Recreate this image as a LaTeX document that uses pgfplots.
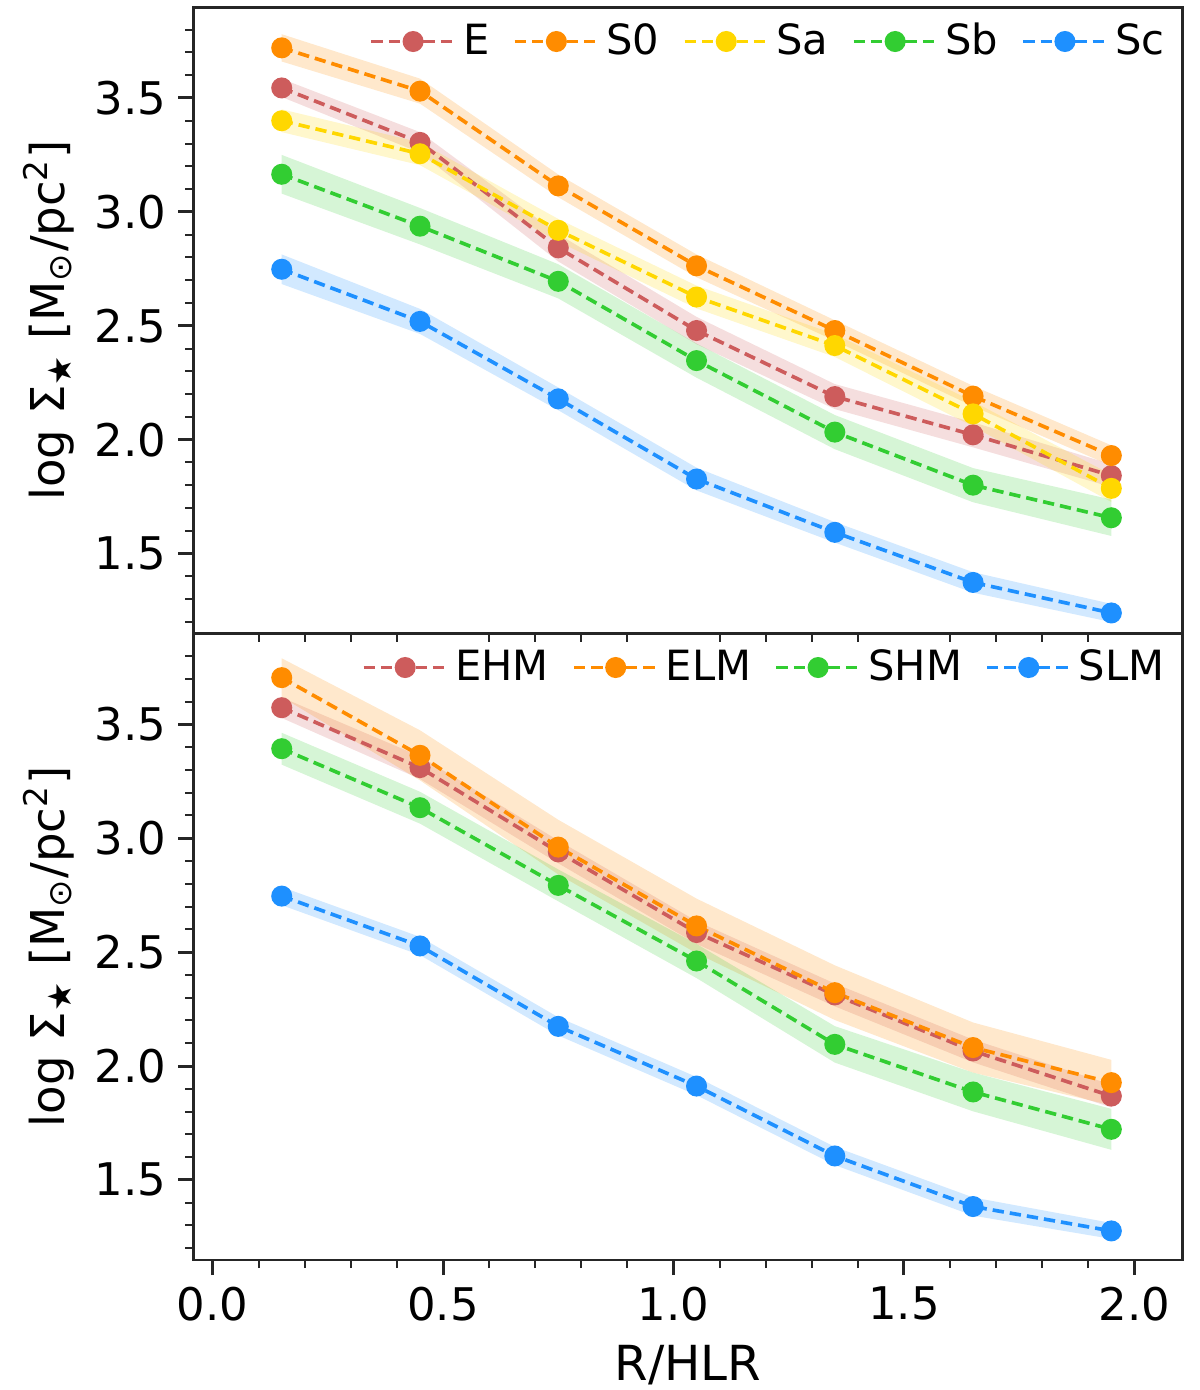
\documentclass[border=0pt]{standalone}
\usepackage{fontspec}
\setmainfont{DejaVu Sans}
\usepackage{pgfplots}
\usepackage{pgfplotstable}
\pgfplotsset{compat=1.18}
\usepgfplotslibrary{fillbetween}
\usetikzlibrary{calc}

\definecolor{indianred}{HTML}{CD5C5C}
\definecolor{darkorange}{HTML}{FF8C00}
\definecolor{gold}{HTML}{FFD700}
\definecolor{limegreen}{HTML}{32CD32}
\definecolor{dodgerblue}{HTML}{1E90FF}

% morphological types: profile and half width of the shaded band
\pgfplotstableread{
x    E     eE    S0    eS0   Sa    eSa   Sb    eSb   Sc    eSc
0.15 3.544 0.040 3.720 0.060 3.400 0.050 3.165 0.085 2.748 0.065
0.45 3.305 0.045 3.530 0.055 3.255 0.050 2.937 0.080 2.519 0.055
0.75 2.842 0.060 3.114 0.050 2.919 0.050 2.695 0.075 2.179 0.050
1.05 2.479 0.060 2.763 0.050 2.626 0.050 2.347 0.075 1.827 0.050
1.35 2.189 0.055 2.479 0.045 2.413 0.050 2.033 0.075 1.593 0.045
1.65 2.021 0.055 2.191 0.045 2.113 0.055 1.800 0.075 1.373 0.045
1.95 1.842 0.050 1.930 0.045 1.786 0.060 1.657 0.080 1.239 0.040
}\morph

% mass groups
\pgfplotstableread{
x    EHM   eEHM  ELM   eELM  SHM   eSHM  SLM   eSLM
0.15 3.573 0.045 3.705 0.085 3.393 0.070 2.746 0.040
0.45 3.310 0.050 3.364 0.110 3.134 0.070 2.527 0.040
0.75 2.940 0.050 2.961 0.120 2.793 0.070 2.174 0.040
1.05 2.586 0.050 2.615 0.120 2.461 0.075 1.912 0.040
1.35 2.312 0.050 2.322 0.120 2.095 0.080 1.605 0.040
1.65 2.066 0.050 2.081 0.110 1.886 0.085 1.383 0.040
1.95 1.868 0.050 1.927 0.100 1.722 0.090 1.276 0.035
}\mass

% #1 table, #2 column, #3 error column, #4 colour
\newcommand{\series}[4]{%
  \addplot[draw=none, forget plot, name path=#2up] table[x=x, y expr=\thisrow{#2}+\thisrow{#3}] {#1};
  \addplot[draw=none, forget plot, name path=#2lo] table[x=x, y expr=\thisrow{#2}-\thisrow{#3}] {#1};
  \addplot[fill=#4, fill opacity=0.2, draw=none, forget plot] fill between[of=#2up and #2lo];
  \addplot[color=#4, line width=1.1pt, dash pattern=on 3.4pt off 1.8pt,
           mark=*, mark size=2.6pt, mark options={solid, draw=none, fill=#4}]
    table[x=x, y=#2] {#1};
  \addlegendentry{#2}
}

\pgfplotsset{
  prof/.style={
    scale only axis, width=297pt, height=188pt,
    xmin=-0.042, xmax=2.105,
    ymin=1.148, ymax=3.898,
    axis line style={line width=0.8pt, black!85},
    tick align=outside, xtick pos=bottom, ytick pos=left,
    major tick length=4.5pt, minor tick length=2.4pt,
    every major tick/.append style={line width=0.9pt, black!85},
    every minor tick/.append style={line width=0.6pt, black!85},
    ytick={1.5,2.0,2.5,3.0,3.5},
    minor ytick={1.2,1.3,1.4,1.6,1.7,1.8,1.9,2.1,2.2,2.3,2.4,2.6,2.7,2.8,2.9,3.1,3.2,3.3,3.4,3.6,3.7,3.8},
    xtick={0,0.5,1.0,1.5,2.0},
    minor xtick={0.1,0.2,0.3,0.4,0.6,0.7,0.8,0.9,1.1,1.2,1.3,1.4,1.6,1.7,1.8,1.9},
    tick label style={font=\fontsize{13.5}{16}\selectfont},
    /pgf/number format/fixed,
    /pgf/number format/fixed zerofill,
    /pgf/number format/precision=1,
    /pgf/number format/assume math mode=true,
    ylabel={log Σ\textsubscript{★} [M\textsubscript{⊙}/pc\textsuperscript{2}]},
    every axis y label/.style={at={(axis description cs:-0.146,0.5)}, rotate=90, anchor=center,
      font=\fontsize{14}{16}\selectfont},
    every axis x label/.style={at={(axis description cs:0.5,-0.168)}, anchor=center,
      font=\fontsize{14.5}{16}\selectfont},
    legend columns=-1,
    legend cell align=left,
    legend style={draw=none, fill=none, at={(0.999,0.997)}, anchor=north east,
      font=\fontsize{12.5}{15}\selectfont,
      /tikz/every even column/.append style={column sep=5pt}},
    legend image code/.code={%
      \draw[mark repeat=2, mark phase=2, #1] plot coordinates {(0pt,0pt) (12.5pt,0pt) (25pt,0pt)};},
  }
}

\begin{document}
\begin{tikzpicture}
\begin{axis}[prof, name=top, xmajorticks=false, xminorticks=false]
  \series{\morph}{E}{eE}{indianred}
  \series{\morph}{S0}{eS0}{darkorange}
  \series{\morph}{Sa}{eSa}{gold}
  \series{\morph}{Sb}{eSb}{limegreen}
  \series{\morph}{Sc}{eSc}{dodgerblue}
\end{axis}
\begin{axis}[prof, name=bot, at={(top.south west)}, anchor=north west, xlabel={R/HLR}]
  \series{\mass}{EHM}{eEHM}{indianred}
  \series{\mass}{ELM}{eELM}{darkorange}
  \series{\mass}{SHM}{eSHM}{limegreen}
  \series{\mass}{SLM}{eSLM}{dodgerblue}
\end{axis}
\pgfresetboundingbox
\path ($(top.north west)+(-58pt,2.2pt)$) rectangle ($(bot.south east)+(5pt,-39pt)$);
\end{tikzpicture}
\end{document}
